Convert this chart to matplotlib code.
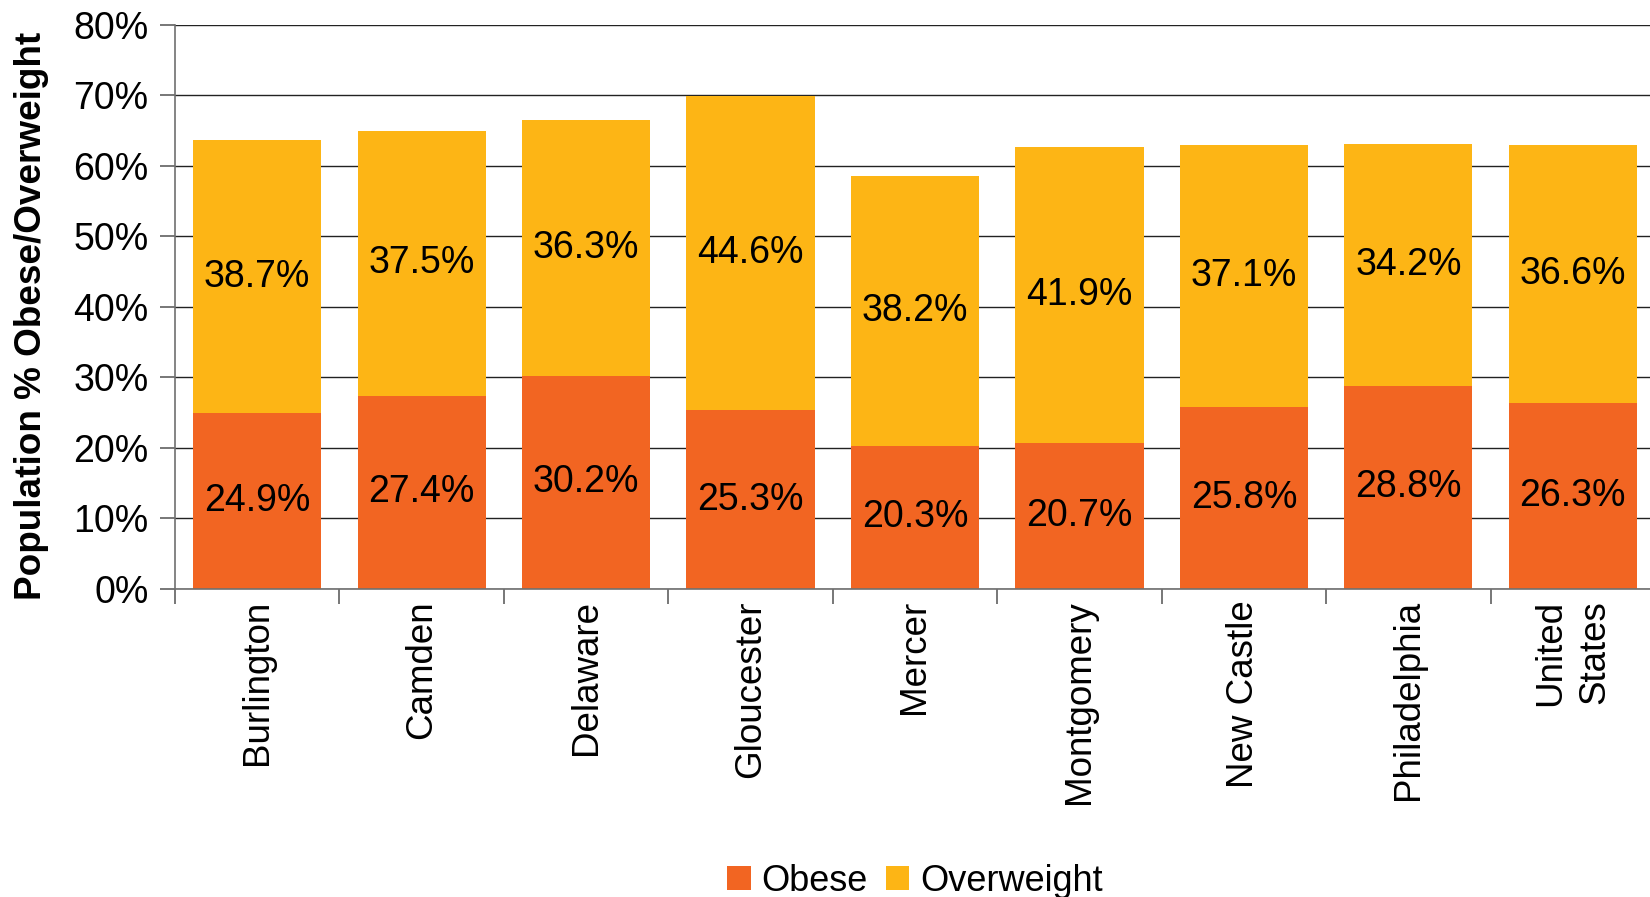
import matplotlib
matplotlib.use("Agg")
import matplotlib.pyplot as plt
import numpy as np

categories = ["Burlington", "Camden", "Delaware", "Gloucester", "Mercer",
              "Montgomery", "New Castle", "Philadelphia", "United\nStates"]
obese = [24.9, 27.4, 30.2, 25.3, 20.3, 20.7, 25.8, 28.8, 26.3]
overweight = [38.7, 37.5, 36.3, 44.6, 38.2, 41.9, 37.1, 34.2, 36.6]
yticks = [0, 10, 20, 30, 40, 50, 60, 70, 80]

plt.rcParams['font.family'] = ['Liberation Sans', 'DejaVu Sans']

C_OB = "#F26522"
C_OW = "#FDB515"

fig = plt.figure(figsize=(16.5, 8.97), dpi=100)
ax = fig.add_axes([175/1650, 1 - 589/897, (1655-175)/1650, (589-24.5)/897])

x = np.arange(len(categories))
w = 0.78
b1 = ax.bar(x, obese, w, color=C_OB, label="Obese", zorder=2)
b2 = ax.bar(x, overweight, w, bottom=obese, color=C_OW, label="Overweight", zorder=2)

for i in range(len(categories)):
    ax.text(x[i], obese[i] / 2, f"{obese[i]:.1f}%", ha="center", va="center",
            fontsize=27, color="black", zorder=3)
    ax.text(x[i], obese[i] + overweight[i] / 2, f"{overweight[i]:.1f}%",
            ha="center", va="center", fontsize=27, color="black", zorder=3)

ax.set_xlim(-0.5, len(categories) - 0.5)
ax.set_ylim(0, 80)
ax.set_yticks(yticks)
ax.set_yticklabels([f"{v}%" for v in yticks], fontsize=27)
ax.yaxis.grid(True, color="#222222", linewidth=1.0, zorder=0)
ax.set_axisbelow(True)

ax.set_xticks(x)
ax.set_xticklabels(categories, rotation=90, fontsize=26.5, va="top", ha="center",
                   multialignment="right", linespacing=1.35)
ax.set_xticks(np.arange(len(categories) + 1) - 0.5, minor=True)
ax.tick_params(axis="x", which="major", length=0, pad=8)
ax.tick_params(axis="x", which="minor", length=11, width=1.2, color="#606060")
ax.tick_params(axis="y", length=11, width=1.2, color="#606060", pad=8)

for s in ["top", "right"]:
    ax.spines[s].set_visible(False)
for s in ["left", "bottom"]:
    ax.spines[s].set_color("#707070")
    ax.spines[s].set_linewidth(1.2)

fig.text(32/1650, 1 - 316/897, "Population % Obese/Overweight", rotation=90,
         ha="center", va="center", fontsize=26.6, fontweight="bold")

leg = fig.legend(handles=[b1, b2], labels=["Obese", "Overweight"],
                 loc="center", bbox_to_anchor=(915/1650, 1 - 881/897),
                 ncol=2, frameon=False, fontsize=26, handlelength=0.65,
                 handleheight=0.65, handletextpad=0.3, columnspacing=0.5)

fig.savefig("out.png", dpi=100)
